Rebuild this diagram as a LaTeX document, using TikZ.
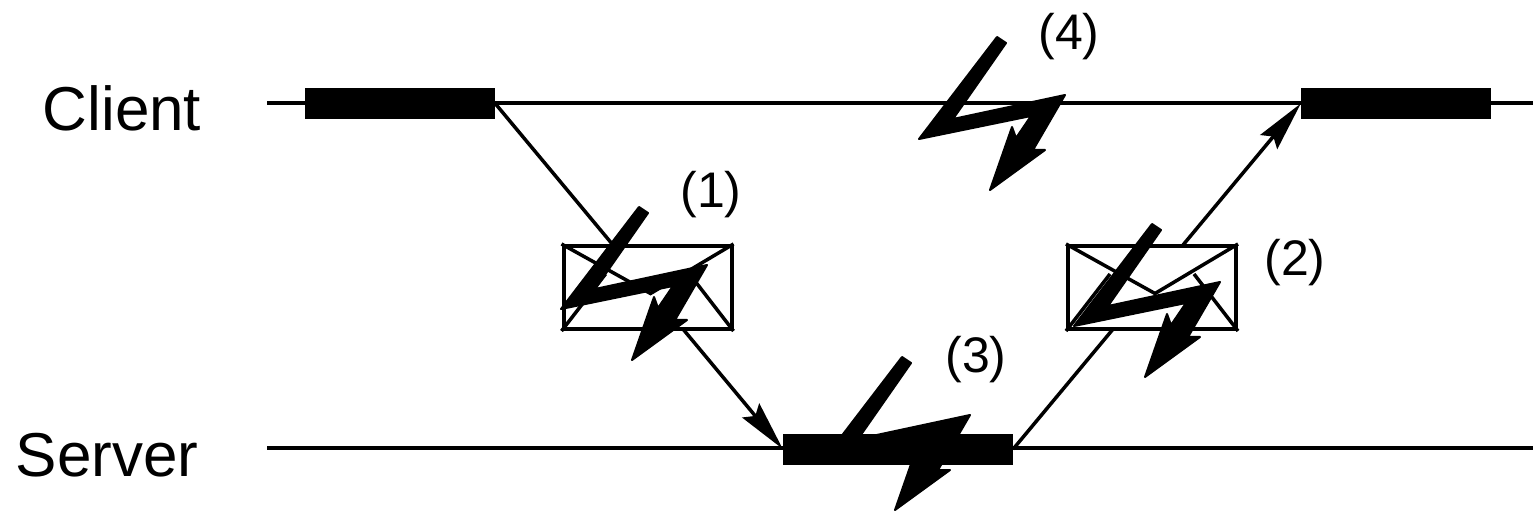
\documentclass[tikz,border=0pt]{standalone}
\usepackage{fontspec}
\setmainfont{Liberation Sans}
\usetikzlibrary{arrows.meta,calc}
\tikzset{
  timebar/.style={fill=black,minimum width=190pt,minimum height=31pt,inner sep=0pt},
  envelope/.style={draw,line width=4pt,fill=white,minimum width=168pt,minimum height=83pt,inner sep=0pt},
  msgline/.style={line width=3.5pt},
  msgtip/.style={-{Stealth[length=50pt,width=22pt,inset=7pt]}},
  timeline/.style={line width=4pt},
  rowlabel/.style={font=\fontsize{62pt}{62pt}\selectfont},
  faultlabel/.style={font=\fontsize{50pt}{50pt}\selectfont},
  bolt/.pic={\filldraw[line width=2pt,line join=round] (1,-1) -- (79,-103) -- (88,-97) -- (35,-21) -- (147,-45) -- (115,10) -- (127,10) -- (72,50) -- (94,-13) -- (98,-2) -- (113,-24) -- cycle;}
}
\begin{document}
\begin{tikzpicture}[x=1pt,y=-1pt]
  \useasboundingbox (0,0) rectangle (1533,518);
  \coordinate (C0) at (267,103); \coordinate (C1) at (1533,103);
  \coordinate (S0) at (267,448); \coordinate (S1) at (1533,448);
  \draw[timeline] (C0) -- (C1);
  \draw[timeline] (S0) -- (S1);
  \node[timebar] (clientA) at (400,103.5) {};
  \node[timebar] (clientB) at (1396,103.5) {};
  \node[timebar,minimum width=230pt] (server) at (898,449) {};
  \draw[msgline,msgtip] (clientA.east) -- (server.west);
  \draw[msgline,msgtip] (server.east) -- (clientB.west);
  \node[envelope] (msgA) at (647.5,287.5) {};
  \node[envelope] (msgB) at (1152,287.5) {};
  \foreach \m in {msgA,msgB} {
    \coordinate (flap) at ($(\m.center)+(3,6)$);
    \draw[msgline] (\m.north west) -- (flap) -- (\m.north east);
    \draw[msgline] (\m.south west) -- ($(\m.south west)+(44,-57)$);
    \draw[msgline] (\m.south east) -- ($(\m.south east)+(-44,-57)$);
  }
  \pic at (560,310) {bolt};
  \pic at (1073,327) {bolt};
  \pic at (823,460) {bolt};
  \pic at (918,140) {bolt};
  \node[rowlabel] (client) at (122,108) {Client};
  \node[rowlabel] (srv) at (107,455) {Server};
  \node[faultlabel] (f1) at (711,195) {(1)};
  \node[faultlabel] (f2) at (1295,263) {(2)};
  \node[faultlabel] (f3) at (976,360) {(3)};
  \node[faultlabel] (f4) at (1069,37) {(4)};
\end{tikzpicture}
\end{document}
